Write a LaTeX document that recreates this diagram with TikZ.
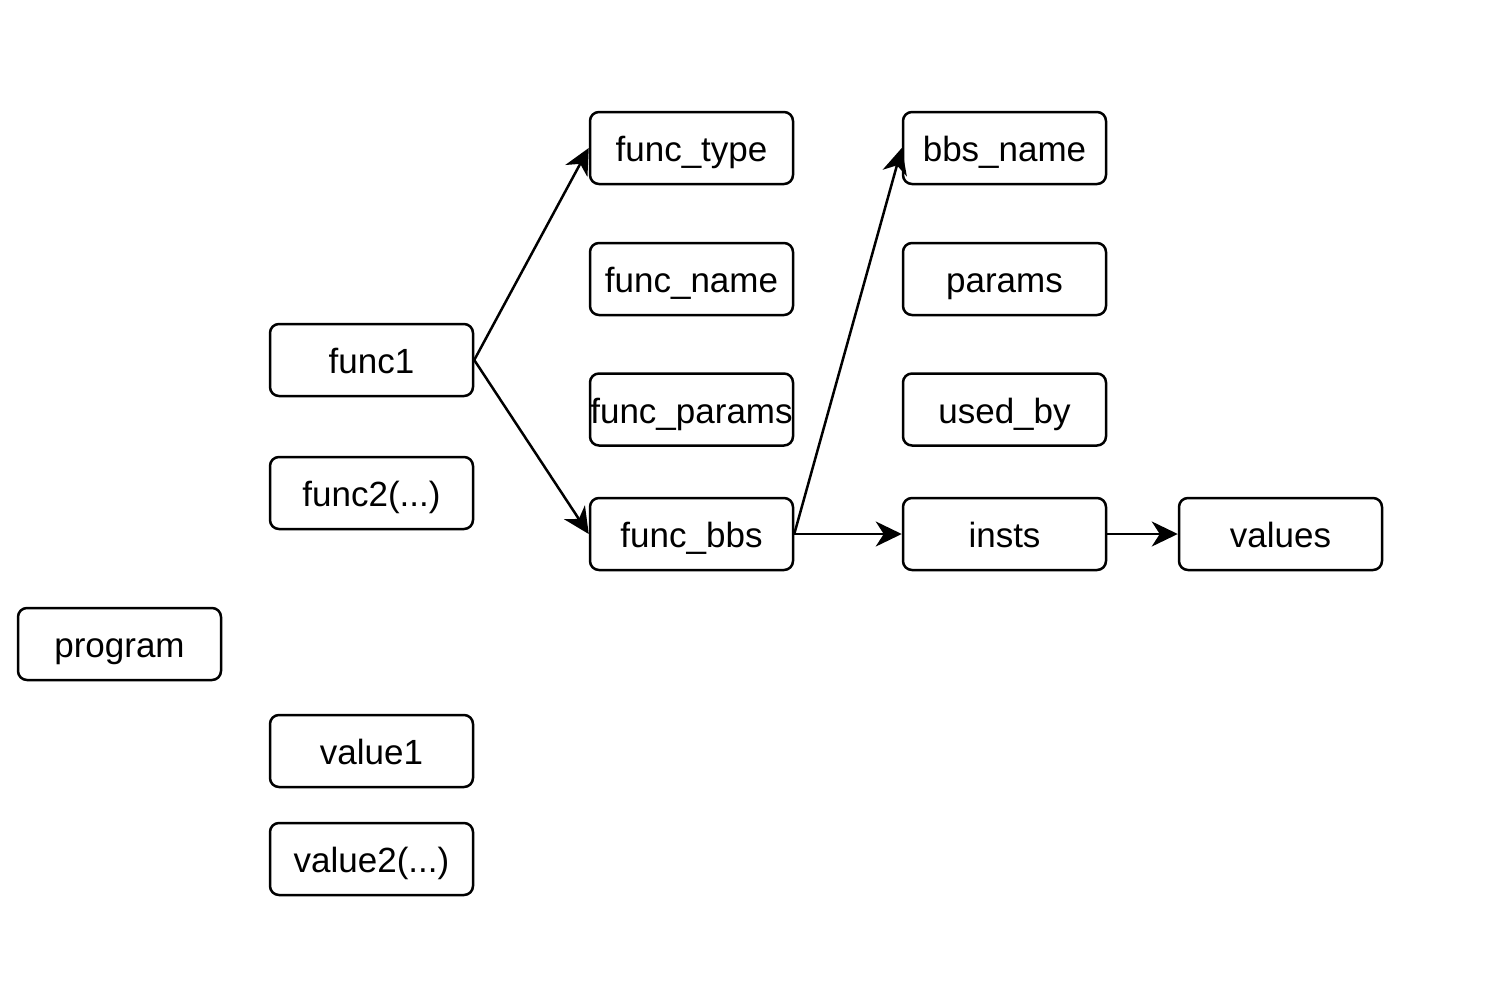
\documentclass[tikz,border=0pt]{standalone}
\usepackage{fontspec}
\setmainfont{Liberation Sans}
\usetikzlibrary{arrows.meta}
\tikzset{
  field/.style={draw,line width=2.5pt,rounded corners=9pt,minimum width=203pt,minimum height=72pt,
    inner sep=0pt,text height=27pt,text depth=0pt,font=\fontsize{35}{40}\selectfont},
  link/.style={line width=2.5pt,-{Stealth[length=26pt,width=25pt,inset=8pt]}}
}
\begin{document}
\begin{tikzpicture}[x=1pt,y=-1pt]
\useasboundingbox (0,0) rectangle (1490,982);
\node[field] (program) at (119.5,644) {program};
\node[field] (func1) at (371.5,360) {func1};
\node[field] (func2) at (371.5,493) {func2(...)};
\node[field] (value1) at (371.5,751) {value1};
\node[field] (value2) at (371.5,859) {value2(...)};
\node[field] (functype) at (691.5,148) {func\_type};
\node[field] (funcname) at (691.5,279) {func\_name};
\node[field] (funcparams) at (691.5,409.5) {func\_params};
\node[field] (funcbbs) at (691.5,534) {func\_bbs};
\node[field] (bbsname) at (1004.5,148) {bbs\_name};
\node[field] (params) at (1004.5,279) {params};
\node[field] (usedby) at (1004.5,409.5) {used\_by};
\node[field] (insts) at (1004.5,534) {insts};
\node[field] (values) at (1280.5,534) {values};
\draw[link] (func1.east) -- (functype.west);
\draw[link] (func1.east) -- (funcbbs.west);
\draw[link] (funcbbs.east) -- (bbsname.west);
\draw[link] (funcbbs.east) -- (insts.west);
\draw[link] (insts.east) -- (values.west);
\end{tikzpicture}
\end{document}
